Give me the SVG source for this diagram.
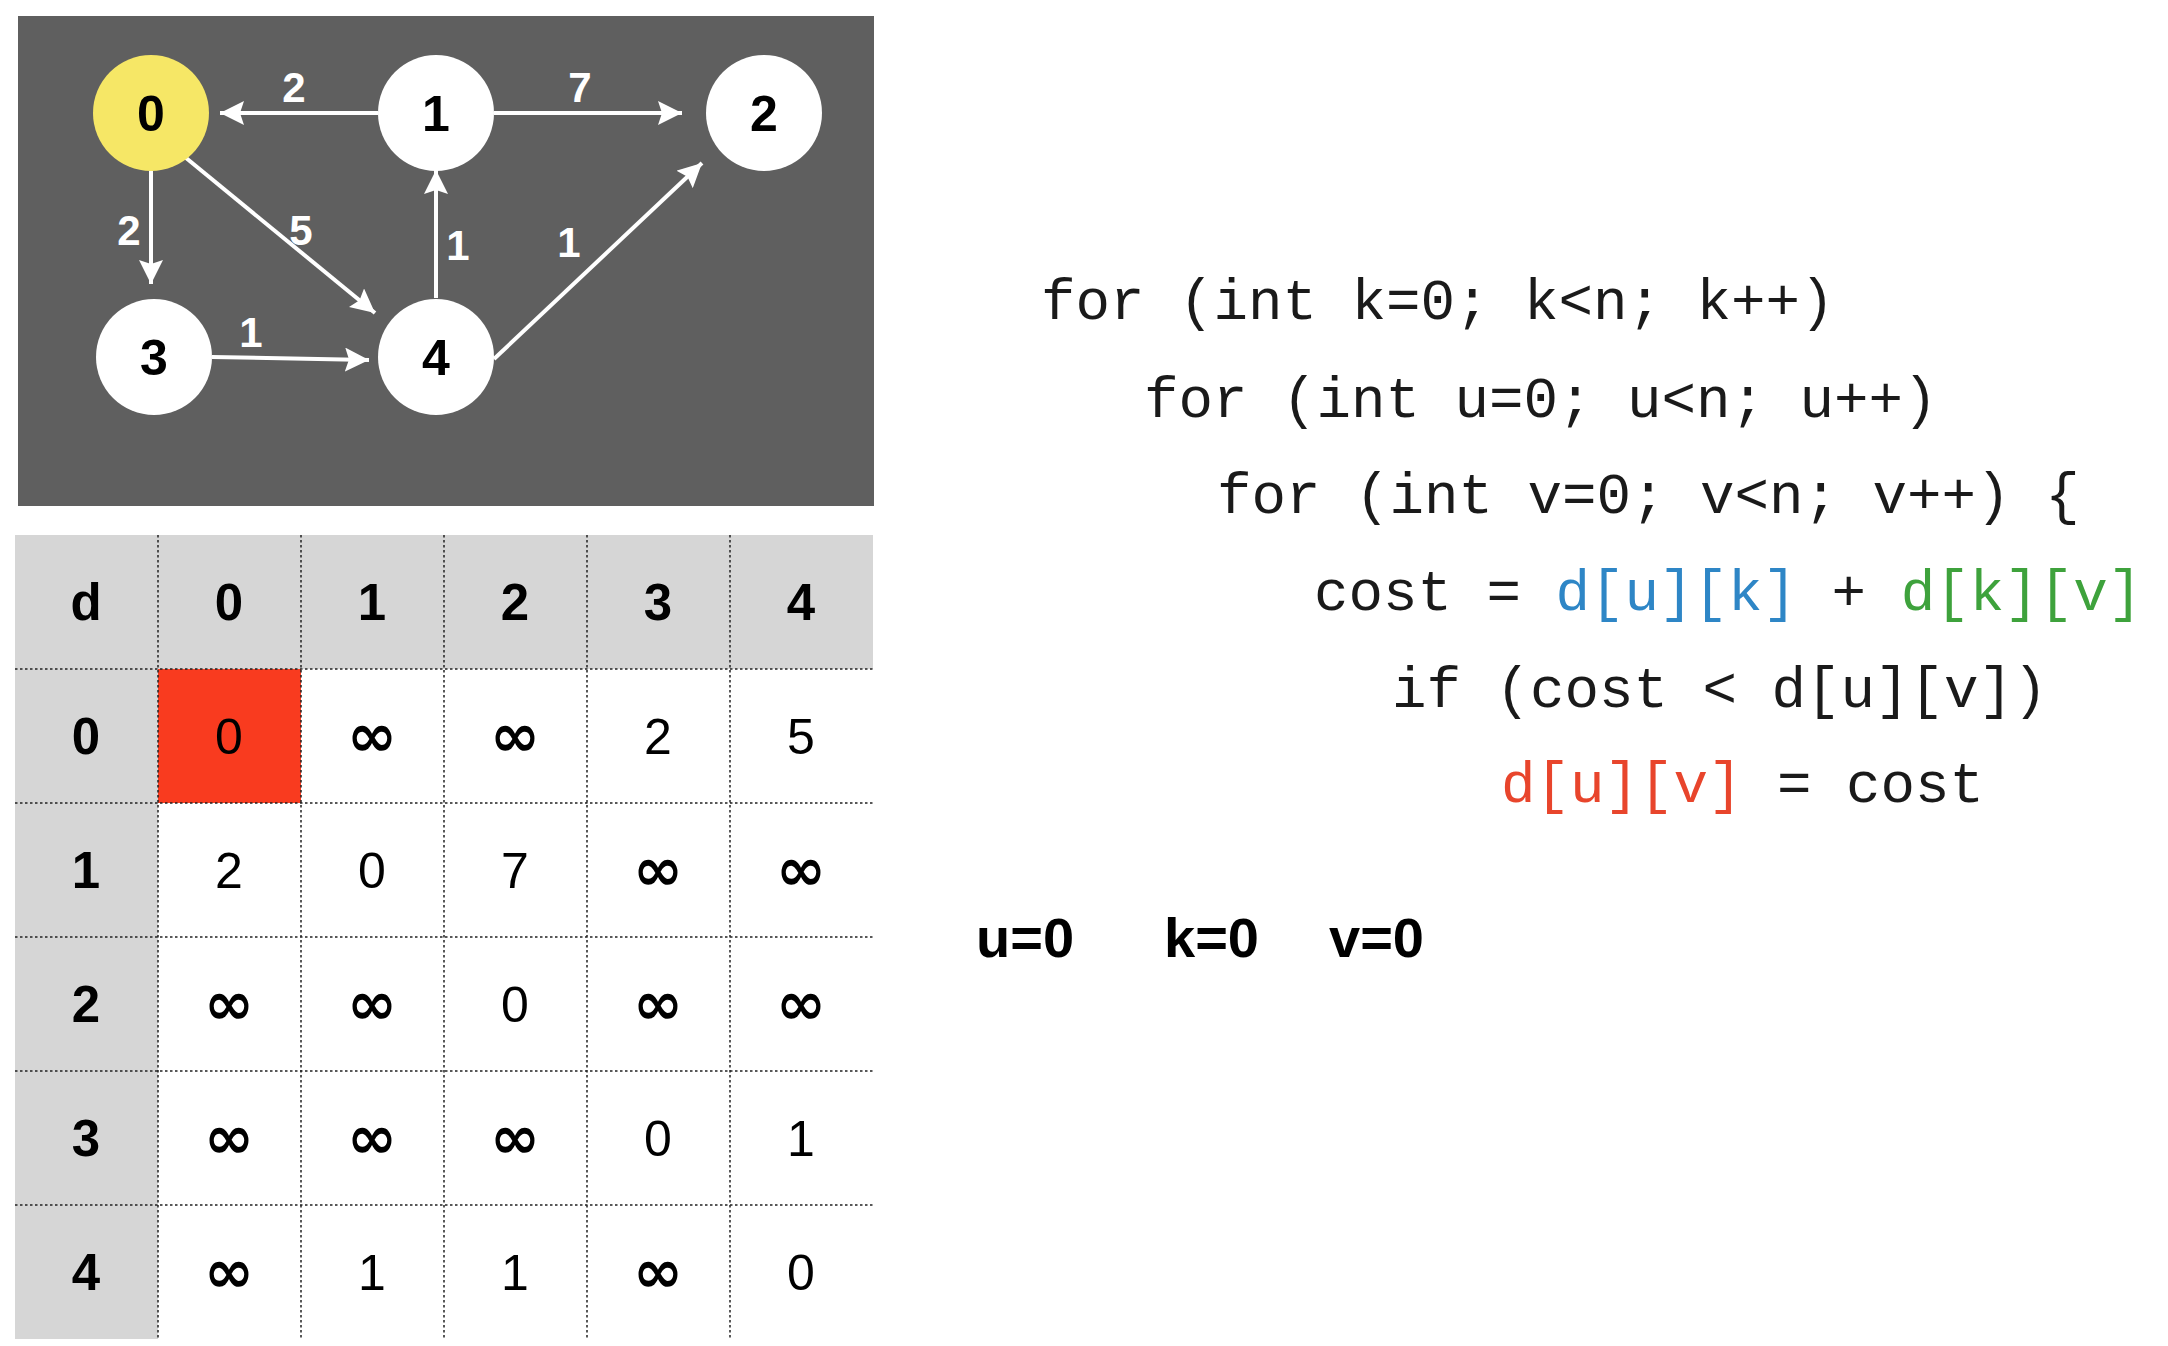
<svg xmlns="http://www.w3.org/2000/svg" width="2168" height="1346" viewBox="0 0 2168 1346">
<style>
.node{fill:#fff}
.nlabel{font-family:"Liberation Sans",Arial,sans-serif;font-weight:bold;font-size:50px;fill:#000;text-anchor:middle}
.elabel{font-family:"Liberation Sans",Arial,sans-serif;font-weight:bold;font-size:42px;fill:#fff;text-anchor:middle}
.edge{stroke:#fff;stroke-width:4;fill:none}
.grid{stroke:#222;stroke-width:1.5;stroke-dasharray:2.5 2.5;fill:none}
.th{font-family:"Liberation Sans",Arial,sans-serif;font-weight:bold;font-size:51px;fill:#000;text-anchor:middle}
.td{font-family:"Liberation Sans",Arial,sans-serif;font-size:50px;fill:#000;text-anchor:middle}
.inf{font-family:"DejaVu Sans","Liberation Sans",sans-serif;font-weight:bold;font-size:60px;fill:#000;text-anchor:middle}
.code{font-family:"Liberation Mono","Courier New",monospace;font-size:57.5px;fill:#1a1a1a;white-space:pre}
.var{font-family:"Liberation Sans",Arial,sans-serif;font-weight:bold;font-size:56px;fill:#000}
</style>
<defs>
<marker id="arr" markerUnits="userSpaceOnUse" markerWidth="26" markerHeight="24" viewBox="0 0 26 24" refX="24" refY="12" orient="auto">
<path d="M0,0 L24,12 L0,24 L4,12 Z" fill="#fff"/>
</marker>
</defs>
<rect x="0" y="0" width="2168" height="1346" fill="#fff"/>
<rect x="18" y="16" width="856" height="490" fill="#5f5f5f"/>
<g id="connectors">
<line class="edge" x1="378" y1="113" x2="220" y2="113" marker-end="url(#arr)"/>
<line class="edge" x1="494" y1="113" x2="682" y2="113" marker-end="url(#arr)"/>
<line class="edge" x1="151" y1="171" x2="151" y2="284" marker-end="url(#arr)"/>
<line class="edge" x1="180" y1="153" x2="375" y2="313" marker-end="url(#arr)"/>
<line class="edge" x1="436" y1="298" x2="436" y2="170" marker-end="url(#arr)"/>
<line class="edge" x1="494" y1="359" x2="702" y2="163" marker-end="url(#arr)"/>
<line class="edge" x1="212" y1="357" x2="369" y2="360" marker-end="url(#arr)"/>
<text class="elabel" x="294" y="102">2</text>
<text class="elabel" x="580" y="102">7</text>
<text class="elabel" x="129" y="245">2</text>
<text class="elabel" x="301" y="245">5</text>
<text class="elabel" x="458" y="260">1</text>
<text class="elabel" x="569" y="257">1</text>
<text class="elabel" x="251" y="347">1</text>
</g>
<g id="node0"><circle cx="151" cy="113" r="58" fill="#f6e766"/><text class="nlabel" x="151" y="131">0</text></g>
<g id="node1"><circle class="node" cx="436" cy="113" r="58"/><text class="nlabel" x="436" y="131">1</text></g>
<g id="node2"><circle class="node" cx="764" cy="113" r="58"/><text class="nlabel" x="764" y="131">2</text></g>
<g id="node3"><circle class="node" cx="154" cy="357" r="58"/><text class="nlabel" x="154" y="375">3</text></g>
<g id="node4"><circle class="node" cx="436" cy="357" r="58"/><text class="nlabel" x="436" y="375">4</text></g>

<g id="table">
<rect x="15" y="535" width="858" height="134" fill="#d6d6d6"/>
<rect x="15" y="669" width="143" height="670" fill="#d6d6d6"/>
<rect x="158" y="669" width="143" height="134" fill="#f93b1f"/>
<path class="grid" d="M158,535V1339M301,535V1339M444,535V1339M587,535V1339M730,535V1339M15,669H873M15,803H873M15,937H873M15,1071H873M15,1205H873"/>
<text class="th" x="86" y="620">d</text>
<text class="th" x="229" y="620">0</text>
<text class="th" x="372" y="620">1</text>
<text class="th" x="515" y="620">2</text>
<text class="th" x="658" y="620">3</text>
<text class="th" x="801" y="620">4</text>
<text class="th" x="86" y="754">0</text>
<text class="th" x="86" y="888">1</text>
<text class="th" x="86" y="1022">2</text>
<text class="th" x="86" y="1156">3</text>
<text class="th" x="86" y="1290">4</text>
<text class="td" x="229" y="754">0</text><text class="inf" x="372" y="756">∞</text><text class="inf" x="515" y="756">∞</text><text class="td" x="658" y="754">2</text><text class="td" x="801" y="754">5</text>
<text class="td" x="229" y="888">2</text><text class="td" x="372" y="888">0</text><text class="td" x="515" y="888">7</text><text class="inf" x="658" y="890">∞</text><text class="inf" x="801" y="890">∞</text>
<text class="inf" x="229" y="1024">∞</text><text class="inf" x="372" y="1024">∞</text><text class="td" x="515" y="1022">0</text><text class="inf" x="658" y="1024">∞</text><text class="inf" x="801" y="1024">∞</text>
<text class="inf" x="229" y="1158">∞</text><text class="inf" x="372" y="1158">∞</text><text class="inf" x="515" y="1158">∞</text><text class="td" x="658" y="1156">0</text><text class="td" x="801" y="1156">1</text>
<text class="inf" x="229" y="1292">∞</text><text class="td" x="372" y="1290">1</text><text class="td" x="515" y="1290">1</text><text class="inf" x="658" y="1292">∞</text><text class="td" x="801" y="1290">0</text>
</g>

<g id="code">
<text class="code" x="1041" y="319">for (int k=0; k&lt;n; k++)</text>
<text class="code" x="1144" y="417">for (int u=0; u&lt;n; u++)</text>
<text class="code" x="1217" y="513">for (int v=0; v&lt;n; v++) {</text>
<text class="code" x="1314" y="610">cost = <tspan fill="#2e86c6">d[u][k]</tspan> + <tspan fill="#3ea23c">d[k][v]</tspan></text>
<text class="code" x="1392" y="707">if (cost &lt; d[u][v])</text>
<text class="code" x="1501" y="802"><tspan fill="#e8452c">d[u][v]</tspan> = cost</text>
</g>

<g id="vars">
<text class="var" x="976" y="957">u=0</text>
<text class="var" x="1164" y="957">k=0</text>
<text class="var" x="1329" y="957">v=0</text>
</g>
</svg>
